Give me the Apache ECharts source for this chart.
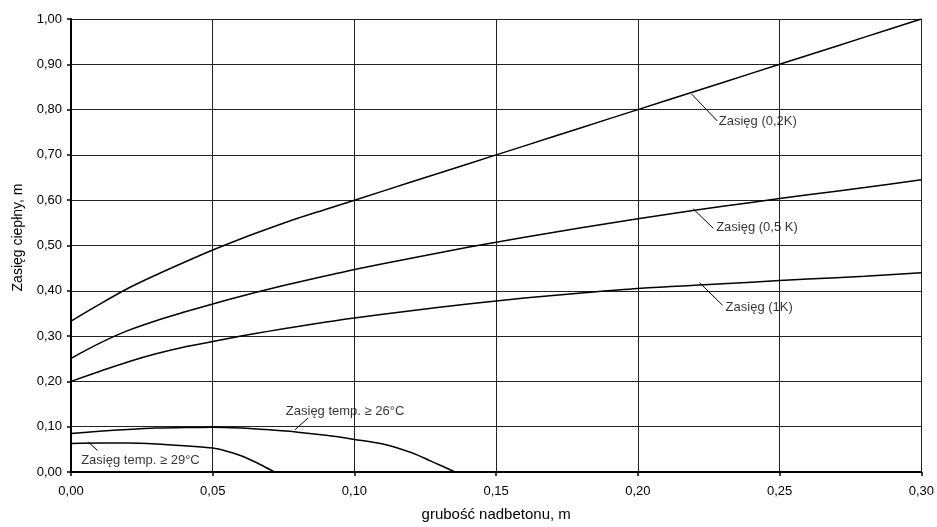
<!DOCTYPE html>
<html>
<head>
<meta charset="utf-8">
<script src="https://cdn.jsdelivr.net/npm/echarts@6/dist/echarts.min.js"></script>
<style>html,body{margin:0;padding:0;background:#fff}#c{width:937px;height:527px}</style>
</head>
<body>
<div id="c"></div>
<script>
// ---- data ----
const xMain = [0, 0.01, 0.02, 0.03, 0.04, 0.05, 0.06, 0.07, 0.08, 0.09, 0.10, 0.12, 0.14, 0.16, 0.18, 0.20, 0.22, 0.24, 0.26, 0.28, 0.30];
const zasieg02K = [0.333, 0.370, 0.405, 0.435, 0.463, 0.490, 0.515, 0.538, 0.560, 0.580, 0.600, 0.640, 0.680, 0.720, 0.760, 0.800, 0.840, 0.880, 0.920, 0.960, 1.000];
const zasieg05K = [0.251, 0.284, 0.312, 0.334, 0.353, 0.371, 0.388, 0.404, 0.419, 0.433, 0.447, 0.472, 0.496, 0.518, 0.539, 0.559, 0.578, 0.595, 0.612, 0.628, 0.645];
const zasieg1K  = [0.200, 0.222, 0.243, 0.261, 0.276, 0.288, 0.300, 0.311, 0.321, 0.331, 0.340, 0.356, 0.371, 0.384, 0.395, 0.405, 0.412, 0.419, 0.426, 0.432, 0.440];
const x26 = [0, 0.01, 0.02, 0.03, 0.04, 0.05, 0.06, 0.07, 0.08, 0.09, 0.10, 0.11, 0.12, 0.127, 0.1355, 0.138];
const temp26 = [0.085, 0.090, 0.094, 0.097, 0.098, 0.099, 0.097, 0.093, 0.088, 0.081, 0.072, 0.062, 0.043, 0.024, 0.000, -0.007];
const x29 = [0, 0.01, 0.02, 0.03, 0.04, 0.05, 0.055, 0.06, 0.065, 0.07, 0.075];
const temp29 = [0.063, 0.064, 0.064, 0.062, 0.058, 0.053, 0.046, 0.036, 0.022, 0.006, -0.010];

const xTickLabels = ['0,00', '0,05', '0,10', '0,15', '0,20', '0,25', '0,30'];
const yTickLabels = ['0,00', '0,10', '0,20', '0,30', '0,40', '0,50', '0,60', '0,70', '0,80', '0,90', '1,00'];

// annotations: label text, label centre (data coords), leader line [from, to]
const annTexts = ['Zasięg (0,2K)', 'Zasięg (0,5 K)', 'Zasięg (1K)', 'Zasięg temp. ≥ 26°C', 'Zasięg temp. ≥ 29°C'];
const annCentres = [[0.2423, 0.775], [0.2420, 0.541], [0.2428, 0.363], [0.0967, 0.134], [0.0245, 0.0255]];
const annLeaders = [
  [[0.2190, 0.834], [0.2280, 0.775]],
  [[0.2195, 0.581], [0.2266, 0.538]],
  [[0.2217, 0.418], [0.2299, 0.368]],
  [[0.0790, 0.093], [0.0836, 0.119]],
  [[0.0061, 0.066], [0.0094, 0.0475]]
];

// ---- chart ----
const font = '"Liberation Sans", Arial, sans-serif';
const zip = (xs, ys) => xs.map((x, i) => [x, ys[i]]);
const curveStyle = { color: '#000', width: 1.5 };
const curves = [
  zip(xMain, zasieg02K), zip(xMain, zasieg05K), zip(xMain, zasieg1K), zip(x26, temp26), zip(x29, temp29)
].map(d => ({
  type: 'line', data: d, showSymbol: false, symbol: 'none', smooth: 0.3,
  clip: true, lineStyle: curveStyle, silent: true, z: 3
}));
const leaders = annLeaders.map(d => ({
  type: 'line', data: d, symbol: 'none', showSymbol: false,
  lineStyle: { color: '#000', width: 1 }, silent: true, z: 4
}));
const labels = {
  type: 'scatter', symbolSize: 0, silent: true, z: 5,
  data: annCentres.map((c, i) => ({ value: c, name: annTexts[i] })),
  label: {
    show: true, position: 'inside', formatter: p => p.name,
    color: '#000', fontFamily: font, fontSize: 13
  }
};

const chart = echarts.init(document.getElementById('c'), null, { renderer: 'canvas' });
chart.setOption({
  animation: false,
  backgroundColor: '#fff',
  grid: { left: 71, right: 15, top: 19, bottom: 53, containLabel: false },
  xAxis: {
    type: 'value', min: 0, max: 0.3, interval: 0.05,
    name: 'grubość nadbetonu, m', nameLocation: 'middle', nameGap: 35,
    nameTextStyle: { color: '#000', fontFamily: font, fontSize: 15 },
    axisLine: { show: true, onZero: false, lineStyle: { color: '#000', width: 2 } },
    axisTick: { show: true, length: 4, lineStyle: { color: '#000', width: 1.5 } },
    axisLabel: { color: '#000', fontFamily: font, fontSize: 13, margin: 13,
      formatter: (v) => xTickLabels[Math.round(v / 0.05)] },
    splitLine: { show: true, lineStyle: { color: '#222', width: 1 } }
  },
  yAxis: {
    type: 'value', min: 0, max: 1, interval: 0.1,
    name: 'Zasięg ciepłny, m', nameLocation: 'middle', nameGap: 46,
    nameTextStyle: { color: '#000', fontFamily: font, fontSize: 14, padding: [0, 0, 0, 16] },
    axisLine: { show: true, onZero: false, lineStyle: { color: '#000', width: 2 } },
    axisTick: { show: true, length: 4, lineStyle: { color: '#000', width: 1.5 } },
    axisLabel: { color: '#000', fontFamily: font, fontSize: 13, margin: 9,
      formatter: (v) => yTickLabels[Math.round(v / 0.1)] },
    splitLine: { show: true, lineStyle: { color: '#222', width: 1 } }
  },
  series: [...curves, ...leaders, labels]
});
</script>
</body>
</html>
